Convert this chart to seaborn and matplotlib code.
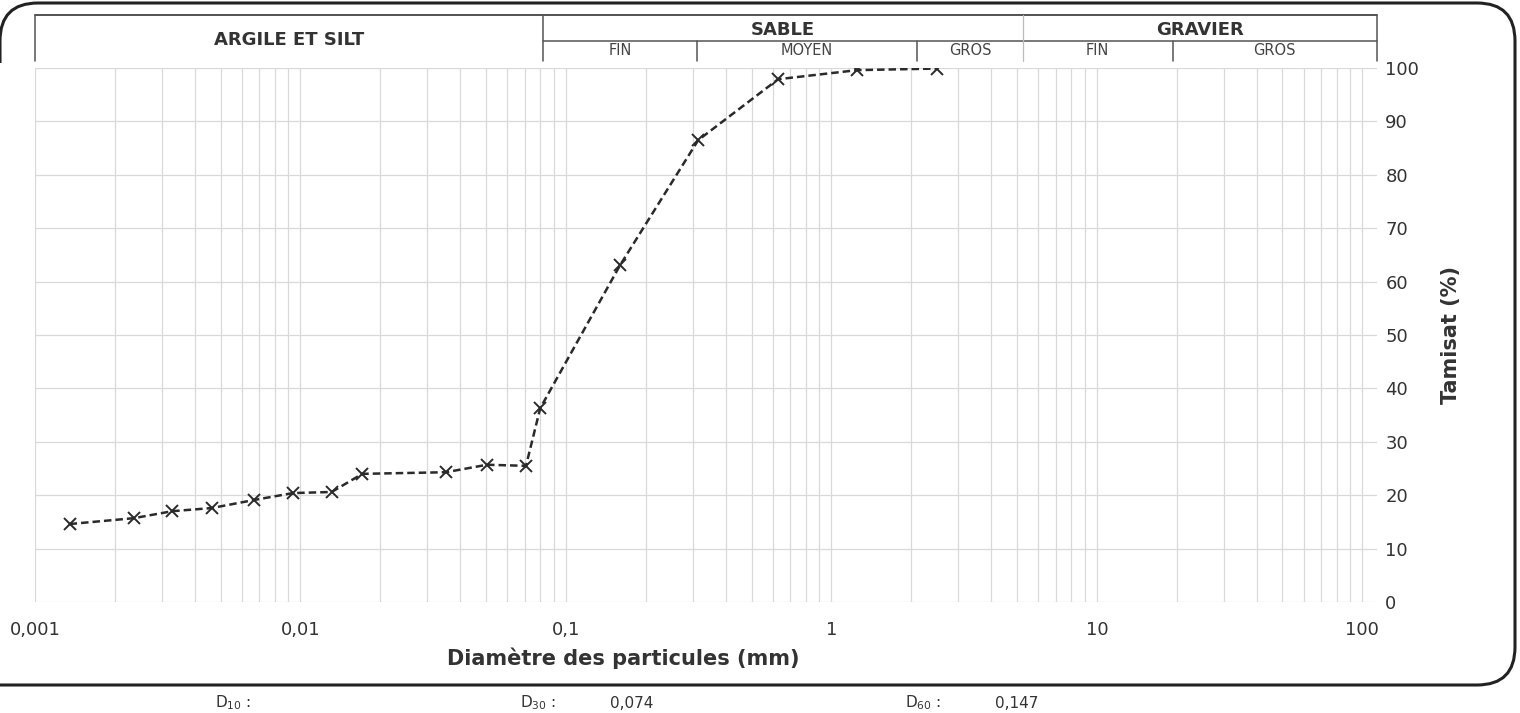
import numpy as np
import pandas as pd
import matplotlib
matplotlib.use("Agg")
import matplotlib.pyplot as plt
import matplotlib.transforms as mtransforms
from matplotlib.patches import PathPatch
from matplotlib.path import Path
from matplotlib.ticker import LogLocator, FixedLocator, FuncFormatter, NullFormatter
import seaborn as sns

# Courbe granulometrique
diametre_mm = [0.00135, 0.00236, 0.00328, 0.00464, 0.00668, 0.00937, 0.0131, 0.0171,
               0.0353, 0.0504, 0.0707, 0.08, 0.16, 0.315, 0.63, 1.25, 2.5]
tamisat = [14.6, 15.7, 17.0, 17.6, 19.1, 20.4, 20.6, 24.0,
           24.3, 25.7, 25.5, 36.3, 63.1, 86.5, 97.9, 99.6, 99.9]

x_ticks = [0.001, 0.01, 0.1, 1, 10, 100]
y_ticks = [0, 10, 20, 30, 40, 50, 60, 70, 80, 90, 100]

# Bandeau de classification
classes = ["ARGILE ET SILT", "SABLE", "GRAVIER"]
class_bounds = [0.001, 0.082, 5.26, 113.5]
sub_classes = ["FIN", "MOYEN", "GROS", "FIN", "GROS"]
sub_bounds = [0.082, 0.311, 2.10, 5.26, 19.3, 113.5]

d_labels = ["D$_{10}$ :", "D$_{30}$ :", "D$_{60}$ :"]
d_values = ["", "0,074", "0,147"]

df = pd.DataFrame({"diametre": diametre_mm, "tamisat": tamisat})

sns.set_style("white")
plt.rcParams["font.family"] = ["DejaVu Sans"]

fig = plt.figure(figsize=(15.2, 7.13), dpi=100)
ax = fig.add_axes([35 / 1520, 1 - 602 / 713, 1342 / 1520, 534 / 713])

sns.lineplot(data=df, x="diametre", y="tamisat", ax=ax, color="#2a2a2a",
             linestyle=(0, (3, 1.6)), linewidth=1.8, marker="x", markersize=8,
             markeredgewidth=1.4, markeredgecolor="#2a2a2a")

ax.set_xscale("log")
ax.set_xlim(class_bounds[0], class_bounds[-1])
ax.set_ylim(0, 100)

ax.xaxis.set_major_locator(FixedLocator(x_ticks))
ax.xaxis.set_minor_locator(LogLocator(base=10, subs=range(2, 10)))
ax.xaxis.set_minor_formatter(NullFormatter())
ax.xaxis.set_major_formatter(FuncFormatter(lambda v, p: f"{v:g}".replace(".", ",")))
ax.yaxis.set_major_locator(FixedLocator(y_ticks))
ax.yaxis.tick_right()
ax.yaxis.set_label_position("right")

ax.grid(True, which="both", axis="x", color="#d9d9d9", linewidth=0.9)
ax.grid(True, which="major", axis="y", color="#d9d9d9", linewidth=0.9)
for s in ax.spines.values():
    s.set_visible(False)
ax.tick_params(which="both", length=0, labelsize=13, labelcolor="#333333")
ax.tick_params(axis="x", pad=14)
ax.tick_params(axis="y", pad=6)

ax.set_xlabel("Diamètre des particules (mm)", fontsize=15, fontweight="bold",
              color="#333333")
ax.xaxis.set_label_coords(0.438, -0.085)
ax.set_ylabel("Tamisat (%)", fontsize=15, fontweight="bold", color="#333333")
ax.yaxis.set_label_coords(1.048, 0.5)

# bandeau en haut
tr = mtransforms.blended_transform_factory(ax.transData, ax.transAxes)
y_top, y_mid, y_bot = 1.0993, 1.0511, 1.013
lc = "#555555"
ax.plot([class_bounds[0], class_bounds[-1]], [y_top, y_top], transform=tr,
        color="#444444", lw=1.3, clip_on=False)
ax.plot([sub_bounds[0], sub_bounds[-1]], [y_mid, y_mid], transform=tr,
        color=lc, lw=1.1, clip_on=False)
for xb in [class_bounds[0], class_bounds[1], class_bounds[-1]]:
    ax.plot([xb, xb], [y_bot, y_top], transform=tr, color=lc, lw=1.1, clip_on=False)
ax.plot([class_bounds[2], class_bounds[2]], [y_bot, y_top], transform=tr,
        color="#bbbbbb", lw=0.9, clip_on=False)
for xb in [sub_bounds[1], sub_bounds[2], sub_bounds[4]]:
    ax.plot([xb, xb], [y_bot, y_mid], transform=tr, color=lc, lw=1.1, clip_on=False)

for i, name in enumerate(classes):
    xc = np.sqrt(class_bounds[i] * class_bounds[i + 1])
    yc = (y_top + y_bot) / 2 if i == 0 else (y_top + y_mid) / 2
    ax.text(xc, yc - 0.004, name, transform=tr, ha="center", va="center",
            fontsize=13, fontweight="bold", color="#333333")
for i, name in enumerate(sub_classes):
    xc = np.sqrt(sub_bounds[i] * sub_bounds[i + 1])
    ax.text(xc, (y_mid + y_bot) / 2, name, transform=tr, ha="center",
            va="center", fontsize=10.5, color="#444444")

# cadre arrondi (pixels, origine en bas a gauche)
verts = [(-2, 28), (1477, 28), (1515, 28), (1515, 66), (1515, 672),
         (1515, 710), (1477, 710), (38, 710), (0, 710), (0, 672), (0, 650)]
codes = [Path.MOVETO, Path.LINETO, Path.CURVE3, Path.CURVE3, Path.LINETO,
         Path.CURVE3, Path.CURVE3, Path.LINETO, Path.CURVE3, Path.CURVE3, Path.LINETO]
frame = PathPatch(Path(verts, codes), transform=None, fill=False,
                  edgecolor="#222222", lw=2.2)
fig.patches.append(frame)

d_xpos = [215, 520, 905]
for xp, lab, val in zip(d_xpos, d_labels, d_values):
    fig.text(xp / 1520, 1 - 703 / 713, lab, ha="left", va="center",
             fontsize=11, color="#333333")
    if val:
        fig.text((xp + 90) / 1520, 1 - 703 / 713, val, ha="left", va="center",
                 fontsize=11, color="#333333")

fig.savefig("out.png", dpi=100)
